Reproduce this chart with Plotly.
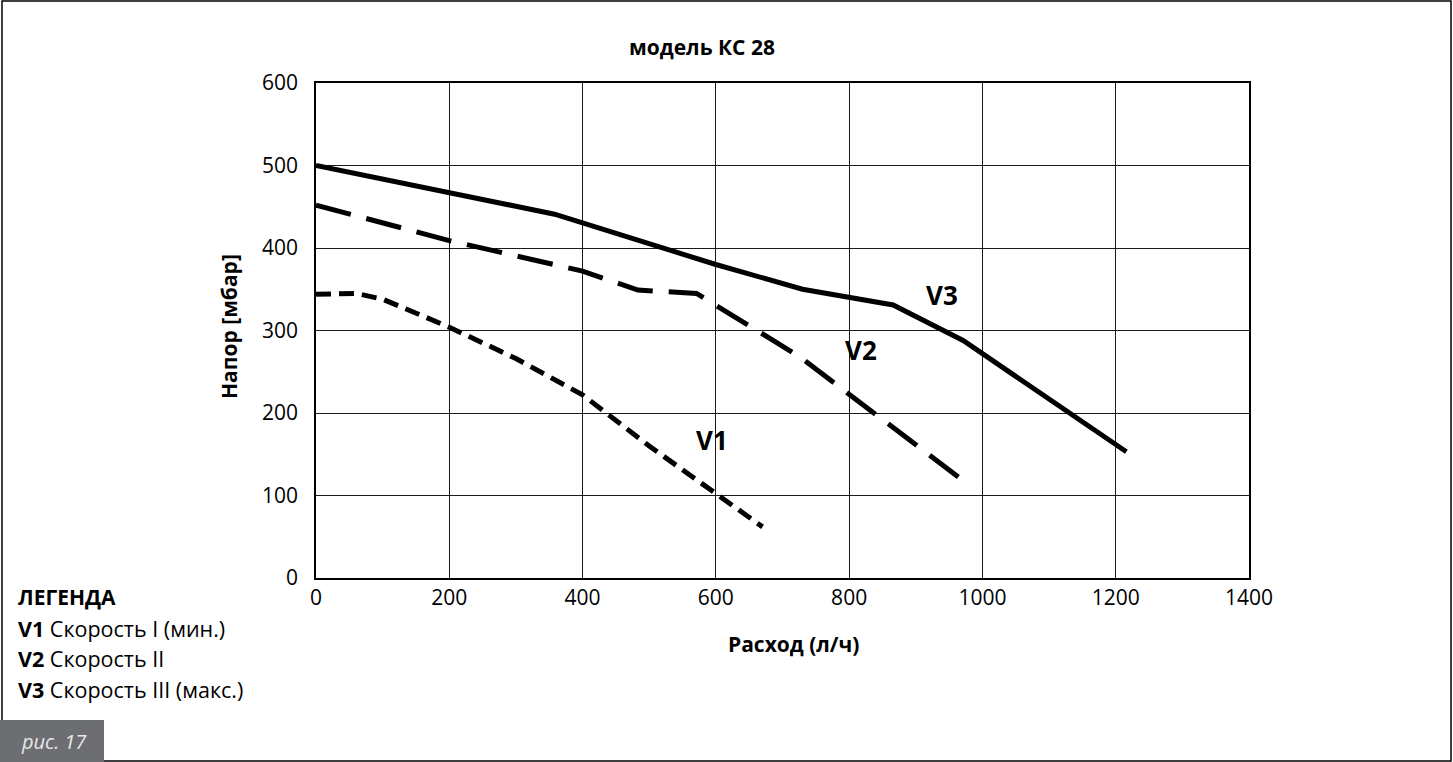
import plotly.graph_objects as go

# Data
v1_x = [0, 60, 100, 200, 300, 400, 500, 600, 670]
v1_y = [344, 345, 338, 304, 266, 222, 160, 103, 62]
v2_x = [0, 200, 400, 483, 571, 726, 976]
v2_y = [452, 409, 372, 349, 345, 268, 115]
v3_x = [0, 358, 600, 730, 866, 971, 1216]
v3_y = [500, 441, 380, 350, 331, 288, 153]

series_labels = ["V1", "V2", "V3"]
label_pos_x = [594, 818, 940]
label_pos_y = [167, 276, 343]

x_ticks = [0, 200, 400, 600, 800, 1000, 1200, 1400]
y_ticks = [0, 100, 200, 300, 400, 500, 600]

title_text = "модель КС 28"
x_title = "Расход (л/ч)"
y_title = "Напор [мбар]"
legend_title = "ЛЕГЕНДА"
legend_rows = [("V1", "Скорость I (мин.)"), ("V2", "Скорость II"), ("V3", "Скорость III (макс.)")]
fig_label = "рис. 17"

W, H = 1453, 762
L, R, T, B = 316, 1249, 83, 578
pw, ph = R - L, B - T


def px(x):
    return (x - L) / pw


def py(y):
    return (B - y) / ph


FONT = "Open Sans"
FS = 21

fig = go.Figure()
fig.add_trace(go.Scatter(x=v1_x, y=v1_y, mode="lines",
                         line=dict(color="black", width=5, dash="15px,8px"), showlegend=False))
fig.add_trace(go.Scatter(x=v2_x, y=v2_y, mode="lines",
                         line=dict(color="black", width=5, dash="36px,16px"), showlegend=False))
fig.add_trace(go.Scatter(x=v3_x, y=v3_y, mode="lines",
                         line=dict(color="black", width=5), showlegend=False))

annotations = []
for lab, lx, ly in zip(series_labels, label_pos_x, label_pos_y):
    annotations.append(dict(x=lx, y=ly, xref="x", yref="y", text=f"<b>{lab}</b>",
                            xanchor="center", yanchor="middle",
                            showarrow=False, font=dict(family=FONT, size=26, color="black")))


def ann(x, y, text, xanchor="center", size=FS, color="black", angle=0):
    annotations.append(dict(x=px(x), y=py(y), xref="paper", yref="paper", text=text,
                            xanchor=xanchor, yanchor="middle", textangle=angle, showarrow=False,
                            font=dict(family=FONT, size=size, color=color)))


ann(702, 47, f"<b>{title_text}</b>")
ann(793, 644, f"<b>{x_title}</b>")
ann(229, 327, f"<b>{y_title}</b>", angle=-90)
ann(16, 597, f"<b>{legend_title}</b>", xanchor="left")
for i, (k, v) in enumerate(legend_rows):
    ann(16, 628 + 30.5 * i, f"<b>{k}</b> {v}", xanchor="left", size=21.5)
ann(19, 741, f"<i>{fig_label}</i>", xanchor="left", size=20, color="#e8e8e8")

shapes = [
    dict(type="rect", xref="paper", yref="paper", x0=px(2), x1=px(1451), y0=py(761), y1=py(1),
         line=dict(color="black", width=1.5), fillcolor="rgba(0,0,0,0)", layer="below"),
    dict(type="rect", xref="paper", yref="paper", x0=px(0), x1=px(104), y0=py(762), y1=py(720),
         line=dict(width=0), fillcolor="#6d6e71", layer="below"),
]

axis_common = dict(showgrid=True, gridcolor="#1a1a1a", gridwidth=1.3, showline=True, linecolor="black",
                   linewidth=1.5, mirror=True, zeroline=False, ticks="",
                   tickfont=dict(family=FONT, size=FS, color="black"))

fig.update_layout(
    width=W, height=H,
    margin=dict(l=L, r=W - R, t=T, b=H - B),
    paper_bgcolor="white", plot_bgcolor="white",
    xaxis=dict(range=[0, 1400], tickvals=x_ticks, ticktext=[str(v) for v in x_ticks],
               ticklabelstandoff=0, **axis_common),
    yaxis=dict(range=[0, 600], tickvals=y_ticks, ticktext=[str(v) for v in y_ticks],
               ticklabelstandoff=12, **axis_common),
    annotations=annotations,
    shapes=shapes,
)

fig.write_html("out.html", config={"displayModeBar": False},
               post_script="document.body.style.margin='0';document.body.style.overflow='hidden';")
